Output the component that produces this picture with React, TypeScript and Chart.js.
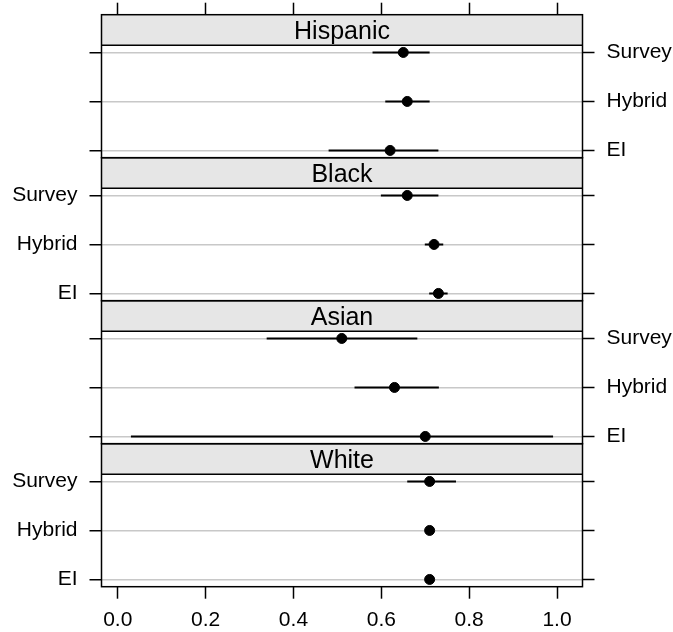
import { useEffect, useRef } from "react";
import { Chart, registerables } from "chart.js";

Chart.register(...registerables);

// ---- data ----
const groups = ["Hispanic", "Black", "Asian", "White"];
const methods = ["Survey", "Hybrid", "EI"];

const hispanicEst = [0.65, 0.659, 0.62];
const hispanicLo = [0.58, 0.609, 0.48];
const hispanicHi = [0.71, 0.71, 0.73];

const blackEst = [0.659, 0.72, 0.73];
const blackLo = [0.599, 0.699, 0.709];
const blackHi = [0.73, 0.741, 0.751];

const asianEst = [0.51, 0.63, 0.7];
const asianLo = [0.339, 0.539, 0.03];
const asianHi = [0.682, 0.731, 0.991];

const whiteEst = [0.71, 0.71, 0.71];
const whiteLo = [0.659, 0.71, 0.71];
const whiteHi = [0.77, 0.71, 0.71];

const labelSide = ["right", "left", "right", "left"];
const xTicks = [0, 0.2, 0.4, 0.6, 0.8, 1.0];
const xMin = -0.037;
const xMax = 1.058;

// ---- layout constants ----
const FONT = "'Liberation Sans', Arial, Helvetica, sans-serif";
const PANEL = 143 / 49;
const STRIP = 30.5 / 49;
const PAD = (PANEL - STRIP - 2) / 2;
const TOTAL = PANEL * groups.length;
const W = 673;
const H = 632;
const LEFT_W = 101.5;
const RIGHT_W = 90.5;
const TOP_H = 14.7;
const BOTTOM_H = H - 586.7;

const rowValue = (g: number, m: number) => g * PANEL + STRIP + PAD + m;

export default function App() {
  const ref = useRef<HTMLCanvasElement | null>(null);

  useEffect(() => {
    if (!ref.current) return;
    const est = [hispanicEst, blackEst, asianEst, whiteEst];
    const lo = [hispanicLo, blackLo, asianLo, whiteLo];
    const hi = [hispanicHi, blackHi, asianHi, whiteHi];

    const rowVals: number[] = [];
    const rowLabelsLeft: string[] = [];
    const rowLabelsRight: string[] = [];
    const points: { x: number; y: number }[] = [];
    const barSets: any[] = [];
    groups.forEach((_, g) => {
      methods.forEach((m, k) => {
        const yv = rowValue(g, k);
        rowVals.push(yv);
        rowLabelsLeft.push(labelSide[g] === "left" ? m : "");
        rowLabelsRight.push(labelSide[g] === "right" ? m : "");
        points.push({ x: est[g][k], y: yv });
        barSets.push({
          data: [
            { x: lo[g][k], y: yv },
            { x: hi[g][k], y: yv },
          ],
          showLine: true,
          borderColor: "#000",
          borderWidth: 2,
          pointRadius: 0,
          pointHoverRadius: 0,
        });
      });
    });

    const labelFor = (arr: string[]) => (value: any) => {
      let best = -1;
      let bd = 1e9;
      rowVals.forEach((v, i) => {
        const d = Math.abs(v - Number(value));
        if (d < bd) {
          bd = d;
          best = i;
        }
      });
      return best >= 0 && bd < 1e-6 ? arr[best] : "";
    };

    const panelPlugin = {
      id: "panels",
      beforeDatasetsDraw(chart: any) {
        const { ctx, chartArea, scales } = chart;
        const y = scales.y;
        const l = chartArea.left;
        const r = chartArea.right;
        groups.forEach((name, g) => {
          const t = y.getPixelForValue(g * PANEL);
          const b = y.getPixelForValue(g * PANEL + STRIP);
          ctx.save();
          ctx.fillStyle = "#e6e6e6";
          ctx.fillRect(l, t, r - l, b - t);
          ctx.fillStyle = "#000";
          ctx.font = `25px ${FONT}`;
          ctx.textAlign = "center";
          ctx.textBaseline = "alphabetic";
          ctx.fillText(name, (l + r) / 2, (t + b) / 2 + 9);
          ctx.restore();
        });
      },
      afterDraw(chart: any) {
        const { ctx, chartArea, scales } = chart;
        const y = scales.y;
        const l = chartArea.left;
        const r = chartArea.right;
        ctx.save();
        ctx.strokeStyle = "#000";
        ctx.lineWidth = 1.5;
        groups.forEach((_, g) => {
          const t = y.getPixelForValue(g * PANEL);
          const sb = y.getPixelForValue(g * PANEL + STRIP);
          const b = y.getPixelForValue((g + 1) * PANEL);
          ctx.strokeRect(l, t, r - l, b - t);
          ctx.beginPath();
          ctx.moveTo(l, sb);
          ctx.lineTo(r, sb);
          ctx.stroke();
        });
        ctx.restore();
      },
    };

    const tickFont = { family: FONT, size: 21 };
    const zeroPad = (s: any) => {
      s.paddingTop = 0;
      s.paddingBottom = 0;
      s.paddingLeft = 0;
      s.paddingRight = 0;
    };

    const chart = new Chart(ref.current, {
      type: "scatter",
      data: {
        datasets: [
          {
            data: points,
            backgroundColor: "#000",
            borderColor: "#000",
            pointRadius: 5,
            pointHoverRadius: 5,
          },
          ...barSets,
        ],
      },
      options: {
        animation: false,
        responsive: false,
        events: [],
        layout: { padding: 0 },
        plugins: { legend: { display: false }, tooltip: { enabled: false } },
        scales: {
          x: {
            type: "linear",
            position: "bottom",
            min: xMin,
            max: xMax,
            afterBuildTicks: (s: any) => {
              s.ticks = xTicks.map((v) => ({ value: v }));
            },
            afterFit: (s: any) => {
              s.height = BOTTOM_H;
              zeroPad(s);
            },
            ticks: {
              callback: (v: any) => Number(v).toFixed(1),
              color: "#000",
              font: tickFont,
              padding: 9,
              autoSkip: false,
              maxRotation: 0,
            },
            grid: {
              drawOnChartArea: false,
              tickLength: 12,
              tickColor: "#000",
              tickWidth: 1.5,
            },
            border: { display: false },
          },
          x2: {
            type: "linear",
            position: "top",
            min: xMin,
            max: xMax,
            afterBuildTicks: (s: any) => {
              s.ticks = xTicks.map((v) => ({ value: v }));
            },
            afterFit: (s: any) => {
              s.height = TOP_H;
              zeroPad(s);
            },
            ticks: {
              callback: () => "",
              color: "#000",
              font: tickFont,
              padding: 0,
              autoSkip: false,
              maxRotation: 0,
            },
            grid: {
              drawOnChartArea: false,
              tickLength: 12,
              tickColor: "#000",
              tickWidth: 1.5,
            },
            border: { display: false },
          },
          y: {
            type: "linear",
            position: "left",
            reverse: true,
            min: 0,
            max: TOTAL,
            afterBuildTicks: (s: any) => {
              s.ticks = rowVals.map((v) => ({ value: v }));
            },
            afterFit: (s: any) => {
              s.width = LEFT_W;
              zeroPad(s);
            },
            ticks: {
              callback: labelFor(rowLabelsLeft),
              color: "#000",
              font: tickFont,
              padding: 12,
              autoSkip: false,
            },
            grid: {
              drawOnChartArea: true,
              color: "#c8c8c8",
              lineWidth: 1.5,
              tickLength: 12,
              tickColor: "#000",
              tickWidth: 1.5,
            },
            border: { display: false },
          },
          y2: {
            type: "linear",
            position: "right",
            reverse: true,
            min: 0,
            max: TOTAL,
            afterBuildTicks: (s: any) => {
              s.ticks = rowVals.map((v) => ({ value: v }));
            },
            afterFit: (s: any) => {
              s.width = RIGHT_W;
              zeroPad(s);
            },
            ticks: {
              callback: labelFor(rowLabelsRight),
              color: "#000",
              font: tickFont,
              padding: 12,
              autoSkip: false,
            },
            grid: {
              drawOnChartArea: false,
              tickLength: 12,
              tickColor: "#000",
              tickWidth: 1.5,
            },
            border: { display: false },
          },
        },
      } as any,
      plugins: [panelPlugin],
    });

    return () => chart.destroy();
  }, []);

  return (
    <div style={{ position: "fixed", left: 0, top: 0, width: W, height: H, background: "#fff" }}>
      <canvas ref={ref} width={W} height={H} style={{ display: "block", width: W, height: H }} />
    </div>
  );
}
